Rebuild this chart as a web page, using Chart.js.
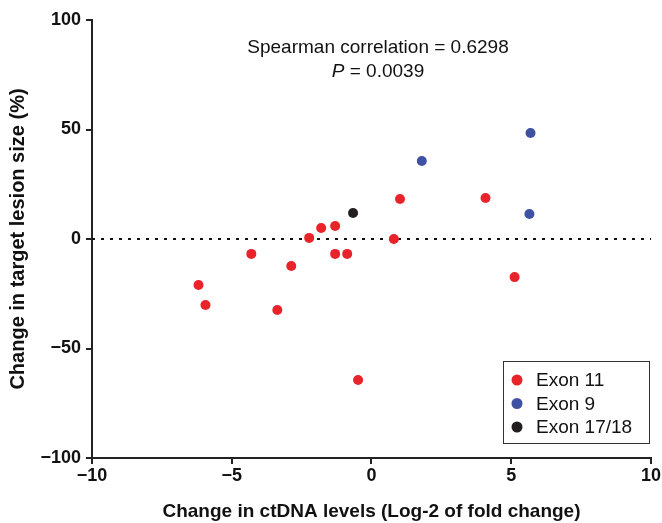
<!DOCTYPE html>
<html>
<head>
<meta charset="utf-8">
<script src="https://cdn.jsdelivr.net/npm/chart.js@4/dist/chart.umd.min.js"></script>
<style>
  html, body { margin: 0; padding: 0; background: #fff; }
  #wrap { width: 662px; height: 523px; }
</style>
</head>
<body>
<div id="wrap"><canvas id="grafico"></canvas></div>
<script>
// dados (x = log2 fold change, y = % change)
const exon11X = [-6.19, -5.94, -4.30, -3.37, -2.87, -2.23, -1.80, -1.30, -1.30, -0.87, -0.48, 0.80, 1.02, 4.08, 5.12];
const exon11Y = [-21.0, -30.1, -6.8, -32.4, -12.3, 0.5, 5.0, 5.9, -6.8, -6.8, -64.4, 0, 18.3, 18.7, -17.4];
const exon9X = [1.80, 5.69, 5.65];
const exon9Y = [35.6, 48.4, 11.4];
const exon1718X = [-0.66];
const exon1718Y = [11.9];
const xTicks = [-10, -5, 0, 5, 10];
const yTicks = [-100, -50, 0, 50, 100];
const legendLabels = ['Exon 11', 'Exon 9', 'Exon 17/18'];
const cores = ['#E8232A', '#3F51A3', '#231F20'];

function pontos(xs, ys) {
  return xs.map((x, i) => ({ x: x, y: ys[i] }));
}

const fonte = '"Liberation Sans", Arial, sans-serif';

// texto da correlação + legenda com borda
const extras = {
  id: 'extras',
  afterDraw(chart) {
    const ctx = chart.ctx;
    ctx.save();
    ctx.fillStyle = '#111';
    ctx.textBaseline = 'middle';
    ctx.textAlign = 'center';
    ctx.font = '19px ' + fonte;
    ctx.fillText('Spearman correlation = 0.6298', 378, 48);
    // P em itálico
    const p1 = 'P', p2 = ' = 0.0039';
    ctx.font = 'italic 19px ' + fonte;
    const w1 = ctx.measureText(p1).width;
    ctx.font = '19px ' + fonte;
    const w2 = ctx.measureText(p2).width;
    let x0 = 378 - (w1 + w2) / 2;
    ctx.textAlign = 'left';
    ctx.font = 'italic 19px ' + fonte;
    ctx.fillText(p1, x0, 72);
    ctx.font = '19px ' + fonte;
    ctx.fillText(p2, x0 + w1, 72);

    // legenda
    ctx.strokeStyle = '#333';
    ctx.lineWidth = 1;
    ctx.strokeRect(503.5, 361.5, 146, 82);
    ctx.font = '19px ' + fonte;
    legendLabels.forEach((txt, i) => {
      const yy = 380 + i * 23.5;
      ctx.fillStyle = cores[i];
      ctx.beginPath();
      ctx.arc(517, yy, 5.5, 0, Math.PI * 2);
      ctx.fill();
      ctx.fillStyle = '#111';
      ctx.fillText(txt, 536, yy + 1);
    });
    ctx.restore();
  }
};

new Chart(document.getElementById('grafico'), {
  type: 'scatter',
  data: {
    datasets: [
      {
        label: 'zero',
        type: 'line',
        data: [{ x: -10, y: 0 }, { x: 10, y: 0 }],
        borderColor: '#111',
        borderWidth: 2,
        borderDash: [3, 6],
        pointRadius: 0,
        order: 5
      },
      {
        label: legendLabels[0],
        data: pontos(exon11X, exon11Y),
        backgroundColor: cores[0],
        borderWidth: 0,
        pointRadius: 5
      },
      {
        label: legendLabels[1],
        data: pontos(exon9X, exon9Y),
        backgroundColor: cores[1],
        borderWidth: 0,
        pointRadius: 5
      },
      {
        label: legendLabels[2],
        data: pontos(exon1718X, exon1718Y),
        backgroundColor: cores[2],
        borderWidth: 0,
        pointRadius: 5
      }
    ]
  },
  options: {
    responsive: true,
    maintainAspectRatio: false,
    animation: false,
    layout: { padding: { left: 0, right: 9, top: 20, bottom: 0 } },
    plugins: {
      legend: { display: false },
      tooltip: { enabled: false }
    },
    scales: {
      x: {
        type: 'linear',
        min: -10,
        max: 10,
        afterBuildTicks(scale) { scale.ticks = xTicks.map(v => ({ value: v })); },
        afterFit(scale) { scale.height = 65; },
        border: { color: '#222', width: 2 },
        grid: { drawOnChartArea: false, drawTicks: true, tickLength: 6, color: '#222', lineWidth: 2 },
        ticks: {
          color: '#111',
          padding: 1,
          font: { family: fonte, size: 18, weight: 'bold' },
          callback: v => String(v).replace('-', '\u2212')
        },
        title: {
          display: true,
          text: 'Change in ctDNA levels (Log-2 of fold change)',
          color: '#111',
          font: { family: fonte, size: 19, weight: 'bold' },
          padding: { top: 6, bottom: 0 }
        }
      },
      y: {
        type: 'linear',
        min: -100,
        max: 100,
        afterBuildTicks(scale) { scale.ticks = yTicks.map(v => ({ value: v })); },
        afterFit(scale) { scale.width = 92; },
        border: { color: '#222', width: 2 },
        grid: { drawOnChartArea: false, drawTicks: true, tickLength: 6, color: '#222', lineWidth: 2 },
        ticks: {
          color: '#111',
          padding: 5,
          font: { family: fonte, size: 18, weight: 'bold' },
          callback: v => String(v).replace('-', '\u2212')
        },
        title: {
          display: true,
          text: 'Change in target lesion size (%)',
          color: '#111',
          font: { family: fonte, size: 20, weight: 'bold' },
          padding: { top: 6, bottom: 0 }
        }
      }
    }
  },
  plugins: [extras]
});
</script>
</body>
</html>
